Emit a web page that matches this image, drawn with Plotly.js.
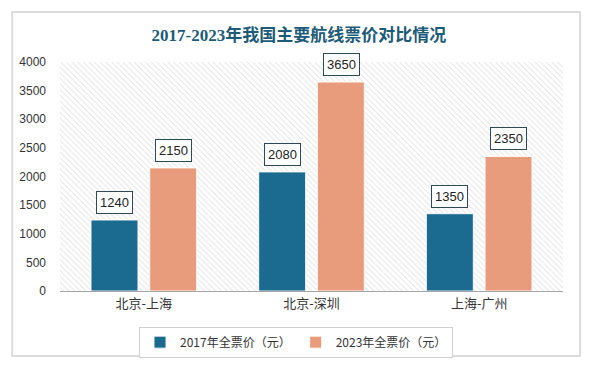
<!DOCTYPE html>
<html><head><meta charset="utf-8">
<script src="https://cdn.plot.ly/plotly-3.0.1.min.js"></script>
<style>html,body{margin:0;padding:0;background:#fff;}#c{width:592px;height:367px;}</style>
</head><body><div id="c"></div>
<script>
var categories = ["北京-上海", "北京-深圳", "上海-广州"];
var fare2017 = [1240, 2080, 1350];
var fare2023 = [2150, 3650, 2350];
var seriesNames = ["2017年全票价（元）", "2023年全票价（元）"];
var yTicks = [0, 500, 1000, 1500, 2000, 2500, 3000, 3500, 4000];

var blue = "#1b6a8f", orange = "#e99c7b";
var hatch = '<svg xmlns="http://www.w3.org/2000/svg" width="504" height="229"><defs><pattern id="p" width="4" height="4" patternUnits="userSpaceOnUse" patternTransform="rotate(-45)"><line x1="0" y1="0" x2="0" y2="4" stroke="#d6d6d6" stroke-width="1.2"/></pattern></defs><rect width="504" height="229" fill="url(#p)"/></svg>';
var hatchUri = "data:image/svg+xml;charset=utf-8," + encodeURIComponent(hatch);

var traces = [
  {type:"bar", name:seriesNames[0], x:categories, y:fare2017, marker:{color:blue, line:{color:"rgba(255,255,255,0.9)", width:1}}},
  {type:"bar", name:seriesNames[1], x:categories, y:fare2023, marker:{color:orange, line:{color:"rgba(255,255,255,0.9)", width:1}}}
];

var annotations = [];
function addLabels(vals, shift){
  vals.forEach(function(v,i){
    annotations.push({x:categories[i], y:v, xref:"x", yref:"y", text:String(v), showarrow:false,
      xshift:shift, yshift:6, yanchor:"bottom", bgcolor:"#fff", bordercolor:"#2d4a55", borderwidth:1, borderpad:3,
      font:{family:"Liberation Sans, Arial", size:13, color:"#222"}});
  });
}
addLabels(fare2017, -29.5);
addLabels(fare2023, 29.5);

var layout = {
  width:592, height:367,
  margin:{l:60, r:29, t:62, b:76},
  paper_bgcolor:"#fff", plot_bgcolor:"rgba(0,0,0,0)",
  title:{text:"<b>2017-2023年我国主要航线票价对比情况</b>", x:0.505, xanchor:"center", y:0.905, yanchor:"middle",
    font:{family:"Liberation Serif, Noto Sans CJK SC", size:17, color:"#1d5b78"}},
  barmode:"group", bargap:0.3, bargroupgap:0.2,
  xaxis:{showgrid:false, zeroline:false, showline:true, linecolor:"#a6a6a6", linewidth:1, ticks:"",
    tickfont:{family:"Noto Sans CJK SC", size:13, color:"#333"}},
  yaxis:{range:[0,4000], tickvals:yTicks, showgrid:false, zeroline:false, showline:false, ticks:"",
    tickfont:{family:"Liberation Sans, Arial", size:12, color:"#333"}, ticklabelstandoff:13},
  showlegend:true,
  legend:{orientation:"h", x:0.5, xanchor:"center", xref:"container", yref:"container", y:0.11, yanchor:"top", bordercolor:"#d0d0d0", borderwidth:1,
    font:{family:"Noto Sans CJK SC", size:12, color:"#333"}, tracegroupgap:0},
  images:[{source:hatchUri, xref:"paper", yref:"paper", x:0, y:1, sizex:1, sizey:1, sizing:"stretch", xanchor:"left", yanchor:"top", layer:"below"}],
  shapes:[{type:"rect", xref:"paper", yref:"paper", x0:-0.095, x1:1.034, y0:-0.284, y1:1.218, line:{color:"#dcdcdc", width:2}, fillcolor:"rgba(0,0,0,0)", layer:"below"}],
  annotations:annotations
};
Plotly.newPlot("c", traces, layout, {displayModeBar:false, staticPlot:true});
</script></body></html>
